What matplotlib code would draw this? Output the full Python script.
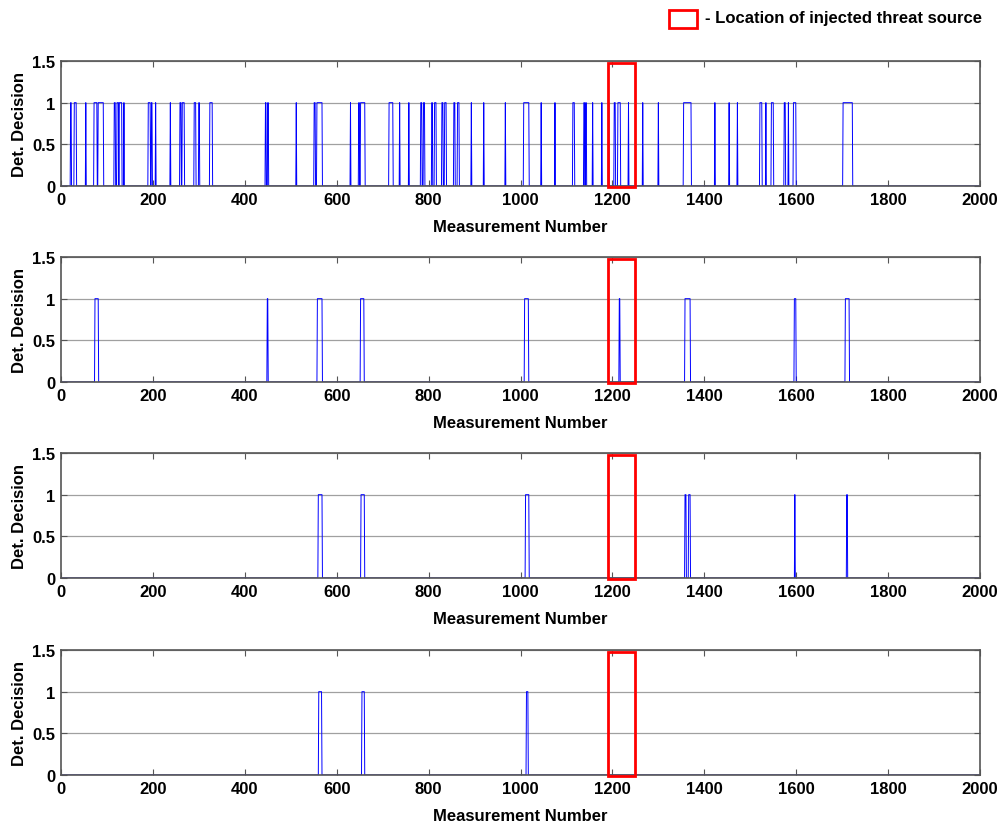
import numpy as np
import matplotlib
matplotlib.use('Agg')
import matplotlib.pyplot as plt
from matplotlib.patches import Rectangle

plt.rcParams['font.family'] = ['Liberation Sans', 'DejaVu Sans']
plt.rcParams['font.weight'] = 'bold'

# Runs of positive detector decisions, (first, last) measurement number
runs_1 = [(21, 22), (29, 33), (54, 54), (72, 78), (81, 92), (116, 118), (122, 125),
          (127, 132), (137, 137), (190, 194), (197, 198), (206, 206), (238, 238),
          (259, 261), (264, 268), (290, 293), (300, 301), (324, 329), (445, 446),
          (450, 451), (512, 512), (551, 553), (557, 568), (630, 630), (648, 649),
          (652, 661), (714, 722), (737, 737), (757, 757), (783, 785), (789, 791),
          (807, 808), (813, 816), (829, 831), (835, 838), (855, 857), (863, 866),
          (893, 893), (920, 920), (967, 967), (1007, 1018), (1045, 1045),
          (1075, 1075), (1114, 1117), (1138, 1139), (1142, 1143), (1157, 1157),
          (1177, 1177), (1192, 1192), (1204, 1206), (1212, 1217), (1235, 1235),
          (1266, 1266), (1300, 1300), (1355, 1371), (1423, 1423), (1454, 1454),
          (1472, 1472), (1521, 1525), (1534, 1534), (1546, 1550), (1574, 1576),
          (1583, 1583), (1594, 1599), (1702, 1722)]
runs_2 = [(74, 81), (449, 450), (558, 568), (652, 659), (1009, 1017), (1215, 1216),
          (1358, 1369), (1596, 1599), (1707, 1715)]
runs_3 = [(560, 568), (653, 660), (1011, 1018), (1358, 1360), (1366, 1369),
          (1597, 1597), (1710, 1711)]
runs_4 = [(561, 567), (655, 660), (1013, 1016)]

n_meas = 2000
threat_start, threat_end = 1190, 1250

x_ticks = np.arange(0, 2001, 200)
y_ticks = [0, 0.5, 1, 1.5]
y_tick_labels = ['0', '0.5', '1', '1.5']


def decisions(runs):
    d = np.zeros(n_meas)
    for a, b in runs:
        d[a - 1:b] = 1
    return d


meas = np.arange(1, n_meas + 1)

fig = plt.figure(figsize=(10.03, 8.29), dpi=100)
left, width = 0.0608, 0.9163
tops = [62, 258, 454, 651]
h_px = 125

for top, runs in zip(tops, [runs_1, runs_2, runs_3, runs_4]):
    ax = fig.add_axes([left, 1 - (top + h_px) / 829, width, h_px / 829])
    ax.plot(meas, decisions(runs), color='blue', lw=0.7, zorder=1.5)
    ax.set_xlim(0, 2000)
    ax.set_ylim(0, 1.5)
    ax.set_xticks(x_ticks)
    ax.set_yticks(y_ticks)
    ax.set_yticklabels(y_tick_labels)
    ax.yaxis.grid(True, color='#a0a0a0', lw=0.9)
    ax.set_axisbelow(True)
    ax.tick_params(direction='in', top=True, right=True, length=4, width=0.8,
                   color='#555555', labelsize=12, pad=4)
    for sp in ax.spines.values():
        sp.set_color('#555555')
        sp.set_linewidth(1.2)
        sp.set_zorder(3)
    ax.set_xlabel('Measurement Number', fontsize=12, fontweight='bold', labelpad=9)
    ax.set_ylabel('Det. Decision', fontsize=12, fontweight='bold', labelpad=4)
    ax.add_patch(Rectangle((threat_start, -0.015), threat_end - threat_start, 1.49,
                           fill=False, edgecolor='red', lw=2.0, clip_on=False, zorder=5))

# key for the threat-source box
fig.patches.append(Rectangle((669 / 1003, 1 - 29 / 829), 28 / 1003, 18 / 829,
                             fill=False, edgecolor='red', lw=2.0,
                             transform=fig.transFigure, figure=fig))
fig.text(705 / 1003, 1 - 18 / 829, '- Location of injected threat source',
         fontsize=12, fontweight='bold', va='center', ha='left')

fig.savefig('out.png', dpi=100)
